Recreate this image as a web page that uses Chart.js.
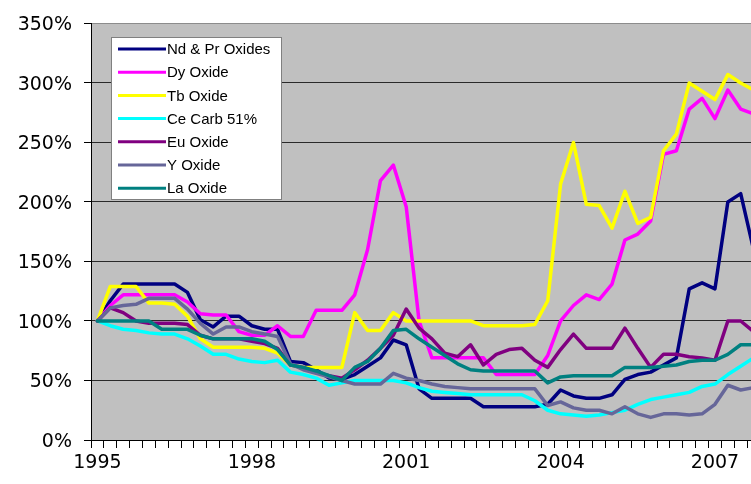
<!DOCTYPE html>
<html>
<head>
<meta charset="utf-8">
<title>Rare earth oxide prices</title>
<script src="https://cdn.jsdelivr.net/npm/chart.js@4.4.1/dist/chart.umd.min.js"></script>
<style>
  html, body { margin: 0; padding: 0; background: #fff; overflow: hidden; }
  canvas { display: block; }
</style>
</head>
<body>
<canvas id="priceChart" width="760" height="484"></canvas>
<script>
// quarterly, 1995 Q1 = 100%
const categories = [
  '1995 Q1', '1995 Q2', '1995 Q3', '1995 Q4',
  '1996 Q1', '1996 Q2', '1996 Q3', '1996 Q4',
  '1997 Q1', '1997 Q2', '1997 Q3', '1997 Q4',
  '1998 Q1', '1998 Q2', '1998 Q3', '1998 Q4',
  '1999 Q1', '1999 Q2', '1999 Q3', '1999 Q4',
  '2000 Q1', '2000 Q2', '2000 Q3', '2000 Q4',
  '2001 Q1', '2001 Q2', '2001 Q3', '2001 Q4',
  '2002 Q1', '2002 Q2', '2002 Q3', '2002 Q4',
  '2003 Q1', '2003 Q2', '2003 Q3', '2003 Q4',
  '2004 Q1', '2004 Q2', '2004 Q3', '2004 Q4',
  '2005 Q1', '2005 Q2', '2005 Q3', '2005 Q4',
  '2006 Q1', '2006 Q2', '2006 Q3', '2006 Q4',
  '2007 Q1', '2007 Q2', '2007 Q3', '2007 Q4'
];
const tickYears = ['1995', '1998', '2001', '2004', '2007'];
const yMax = 350;
const yStep = 50;

const ndPr = [100, 117, 131, 131, 131, 131, 131, 124, 101, 95, 104, 104,
  96, 93, 93, 66, 65, 59, 52, 51, 55, 62, 69, 84,
  80, 43, 35, 35, 35, 35, 28, 28, 28, 28, 28, 30,
  42, 37, 35, 35, 38, 51, 55, 57, 63, 69, 127, 132,
  127, 200, 207, 160];
const dy = [100, 113, 122, 122, 122, 122, 122, 116, 106, 105, 105, 91,
  88, 88, 96, 87, 87, 109, 109, 109, 122, 160, 218, 231,
  196, 100, 69, 69, 69, 69, 69, 55, 55, 55, 55, 71,
  100, 113, 122, 118, 131, 168, 173, 184, 240, 243, 278, 287,
  270, 294, 278, 274];
const tb = [100, 129, 129, 129, 115, 115, 114, 104, 85, 78, 78, 78,
  78, 77, 73, 63, 61, 61, 61, 61, 107, 92, 92, 107,
  100, 100, 100, 100, 100, 100, 96, 96, 96, 96, 97, 117,
  215, 250, 198, 197, 178, 209, 182, 187, 243, 257, 300, 293,
  286, 307, 300, 294];
const ce = [100, 96, 93, 92, 90, 89, 89, 85, 79, 72, 72, 68,
  66, 65, 67, 57, 55, 52, 46, 48, 50, 50, 50, 50,
  48, 44, 41, 40, 39, 38, 38, 38, 38, 38, 33, 25,
  22, 21, 20, 21, 23, 25, 30, 34, 36, 38, 40, 45,
  47, 55, 62, 69];
const eu = [100, 111, 107, 100, 98, 98, 98, 97, 88, 85, 85, 85,
  83, 81, 77, 63, 61, 57, 54, 52, 59, 67, 77, 88,
  110, 94, 85, 73, 70, 80, 63, 72, 76, 77, 67, 61,
  76, 89, 77, 77, 77, 94, 77, 61, 72, 72, 70, 69,
  67, 100, 100, 91];
const yOx = [100, 111, 113, 114, 119, 119, 119, 110, 98, 89, 95, 95,
  91, 89, 87, 64, 59, 56, 53, 50, 47, 47, 47, 56,
  52, 50, 47, 45, 44, 43, 43, 43, 43, 43, 43, 29,
  32, 27, 25, 25, 22, 28, 22, 19, 22, 22, 21, 22,
  30, 46, 42, 44];
const la = [100, 100, 100, 100, 100, 93, 93, 93, 88, 85, 85, 85,
  85, 83, 76, 63, 61, 58, 54, 50, 61, 66, 77, 92,
  93, 85, 78, 71, 64, 59, 58, 58, 58, 58, 58, 48,
  53, 54, 54, 54, 54, 61, 61, 61, 62, 63, 66, 67,
  67, 72, 80, 80];

const seriesNames = ['Nd & Pr Oxides', 'Dy Oxide', 'Tb Oxide', 'Ce Carb 51%', 'Eu Oxide', 'Y Oxide', 'La Oxide'];
const seriesColors = ['#000080', '#ff00ff', '#ffff00', '#00ffff', '#800080', '#666699', '#008080'];
const seriesData = [ndPr, dy, tb, ce, eu, yOx, la];

// grey plot area behind the grid
const plotBackground = {
  id: 'plotBackground',
  beforeDraw(chart) {
    const { ctx, chartArea: a } = chart;
    ctx.save();
    ctx.fillStyle = '#c0c0c0';
    ctx.fillRect(a.left, a.top, a.right - a.left, a.bottom - a.top);
    ctx.restore();
  }
};

// boxed legend sitting inside the plot, top left
const boxLegend = {
  id: 'boxLegend',
  afterDraw(chart) {
    const ctx = chart.ctx;
    const x = 111, y = 37, w = 170, h = 162;
    ctx.save();
    ctx.fillStyle = '#ffffff';
    ctx.fillRect(x, y, w, h);
    ctx.strokeStyle = '#808080';
    ctx.lineWidth = 1;
    ctx.strokeRect(x + 0.5, y + 0.5, w, h);
    ctx.font = '15px "Liberation Sans", Arial, sans-serif';
    ctx.textBaseline = 'middle';
    chart.data.datasets.forEach((ds, i) => {
      const cy = y + 12 + i * 23.2;
      ctx.strokeStyle = ds.borderColor;
      ctx.lineWidth = 3;
      ctx.beginPath();
      ctx.moveTo(x + 7, cy);
      ctx.lineTo(x + 55, cy);
      ctx.stroke();
      ctx.fillStyle = '#000';
      ctx.fillText(ds.label, x + 56, cy + 1);
    });
    ctx.restore();
  }
};

const axisFont = { family: '"DejaVu Sans", Verdana, sans-serif', size: 19 };

const ctx = document.getElementById('priceChart').getContext('2d');
const priceChart = new Chart(ctx, {
  type: 'line',
  data: {
    labels: categories,
    datasets: seriesNames.map((name, i) => ({
      label: name,
      data: seriesData[i],
      borderColor: seriesColors[i],
      backgroundColor: seriesColors[i],
      borderWidth: 3.5,
      borderJoinStyle: 'round',
      borderCapStyle: 'round',
      pointRadius: 0,
      tension: 0,
      order: seriesNames.length - i
    }))
  },
  options: {
    responsive: false,
    animation: false,
    devicePixelRatio: 1,
    layout: { padding: { top: 16, left: 0, right: 0, bottom: 0 } },
    plugins: {
      legend: { display: false },
      tooltip: { enabled: false }
    },
    scales: {
      x: {
        offset: true,
        grid: {
          offset: true,
          drawOnChartArea: false,
          drawTicks: true,
          tickLength: 8,
          tickColor: '#000'
        },
        border: { display: true, color: '#000', width: 1 },
        ticks: {
          autoSkip: false,
          maxRotation: 0,
          padding: 4,
          color: '#000',
          font: axisFont,
          callback: function (value) {
            const label = this.getLabelForValue(value);
            const [year, q] = label.split(' ');
            return q === 'Q1' && tickYears.includes(year) ? year : '';
          }
        },
        afterFit(scale) { scale.height = 44; }
      },
      y: {
        min: 0,
        max: yMax,
        grid: {
          color: (c) => (c.tick && c.tick.value === yMax ? '#8c8c8c' : '#2a2a2a'),
          tickColor: '#000',
          tickLength: 7,
          drawTicks: true
        },
        border: { display: true, color: '#000', width: 1 },
        ticks: {
          stepSize: yStep,
          padding: 12,
          labelOffset: 2,
          color: '#000',
          font: axisFont,
          callback: (v) => v + '%'
        },
        afterFit(scale) { scale.width = 91; }
      }
    }
  },
  plugins: [plotBackground, boxLegend]
});
</script>
</body>
</html>
